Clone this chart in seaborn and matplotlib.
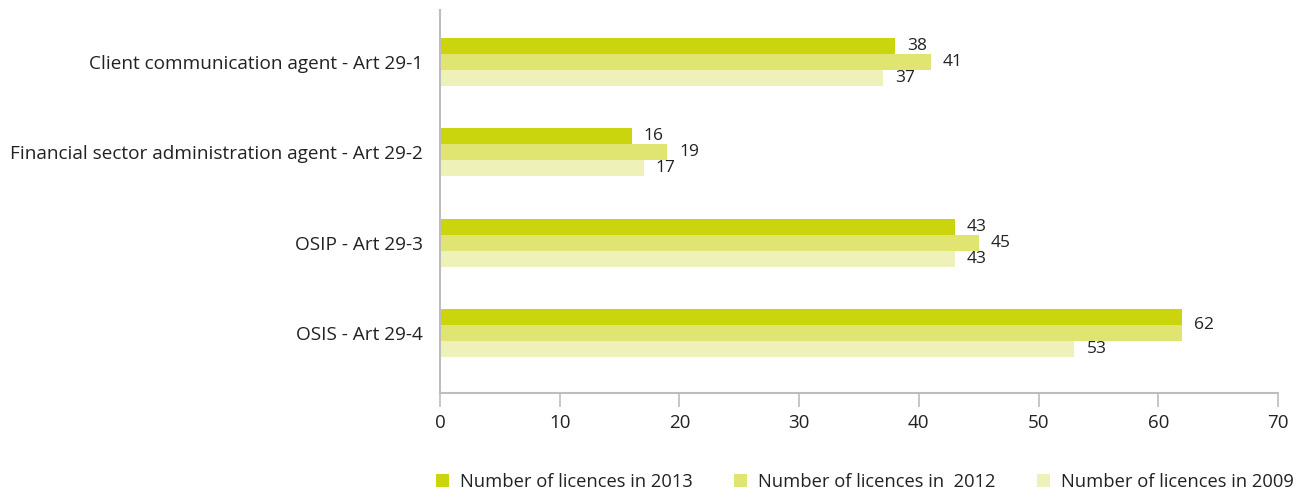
import matplotlib
matplotlib.use('Agg')
import matplotlib.pyplot as plt
import pandas as pd
import seaborn as sns

categories = ['Client communication agent - Art 29-1',
              'Financial sector administration agent - Art 29-2',
              'OSIP - Art 29-3',
              'OSIS - Art 29-4']
series = ['Number of licences in 2013', 'Number of licences in  2012', 'Number of licences in 2009']
v2013 = [38, 16, 43, 62]
v2012 = [41, 19, 45, 62]
v2009 = [37, 17, 43, 53]
colors = ['#CBD50E', '#E0E571', '#EEF2B8']

df = pd.DataFrame({
    'category': categories * 3,
    'series': [series[0]] * 4 + [series[1]] * 4 + [series[2]] * 4,
    'value': v2013 + v2012 + v2009,
})

sns.set_style('white')
plt.rcParams['font.family'] = ['Open Sans', 'DejaVu Sans']

fig = plt.figure(figsize=(13.14, 4.94), dpi=100)
ax = fig.add_axes([440/1314, 1 - 393/494, (1278 - 440)/1314, (393 - 10)/494])

sns.barplot(data=df, x='value', y='category', hue='series', order=categories,
            hue_order=series, palette=colors, orient='h', width=0.53,
            saturation=1, edgecolor='none', ax=ax)

ax.set_xlim(0, 70)
ax.set_ylim(3.664, -0.576)
ax.set_xticks(range(0, 71, 10))
ax.set_xlabel('')
ax.set_ylabel('')

for s in ['top', 'right']:
    ax.spines[s].set_visible(False)
for s in ['left', 'bottom']:
    ax.spines[s].set_color('#BDBDBD')
    ax.spines[s].set_linewidth(1.5)
ax.tick_params(axis='x', which='both', bottom=True, length=10, width=1.2,
               color='#BDBDBD', labelsize=13.5, labelcolor='#222222', pad=5)
ax.tick_params(axis='y', left=False, labelsize=13.7, labelcolor='#222222', pad=9)

# value labels (one shared label when two neighbouring bars are equal)
vals = [v2013, v2012, v2009]
for si, cont in enumerate(ax.containers):
    for ci, bar in enumerate(cont.patches):
        w = bar.get_width()
        yc = bar.get_y() + bar.get_height() / 2
        if si == 0 and vals[1][ci] == vals[0][ci]:
            continue
        if si == 1 and vals[0][ci] == vals[1][ci]:
            yc = bar.get_y()
        ax.text(w + 1.0, yc, f'{vals[si][ci]}', va='center', ha='left',
                fontsize=12.5, color='#222222')

leg = ax.legend(loc='upper left', bbox_to_anchor=(-0.013, -0.19), ncol=3,
                frameon=False, fontsize=13.2, handlelength=0.7, handleheight=0.7,
                handletextpad=0.6, columnspacing=2.25, borderaxespad=0)
for t in leg.get_texts():
    t.set_color('#222222')

fig.savefig('out.png', dpi=100)
